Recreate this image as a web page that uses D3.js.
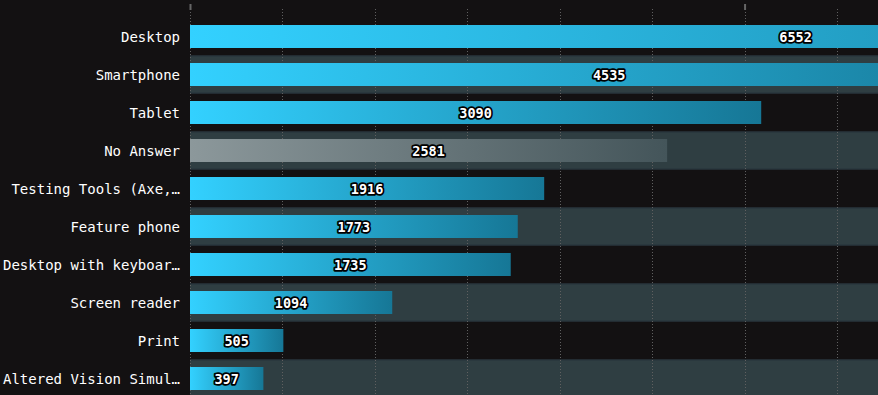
<!DOCTYPE html>
<html>
<head>
<meta charset="utf-8">
<script src="https://cdn.jsdelivr.net/npm/d3@7"></script>
<style>
  html, body { margin: 0; padding: 0; background: #131112; overflow: hidden; }
  svg { display: block; }
</style>
</head>
<body>
<div id="chart"></div>
<script>
const categories = [
  "Desktop",
  "Smartphone",
  "Tablet",
  "No Answer",
  "Testing Tools (Axe,\u2026",
  "Feature phone",
  "Desktop with keyboar\u2026",
  "Screen reader",
  "Print",
  "Altered Vision Simul\u2026"
];
const counts = [6552, 4535, 3090, 2581, 1916, 1773, 1735, 1094, 505, 397];
const gridValues = d3.range(0, 7001, 500);
const tickValues = [0, 3000, 6000];

const width = 878;
const height = 395;

const rows = categories.map((c, i) => ({ label: c, value: counts[i], idx: i }));

const svg = d3.select("#chart")
  .append("svg")
  .attr("width", width)
  .attr("height", height);

const defs = svg.append("defs");

const blue = defs.append("linearGradient")
  .attr("id", "barBlue")
  .attr("x1", "0").attr("y1", "0").attr("x2", "1").attr("y2", "0");
blue.append("stop").attr("offset", "0%").attr("stop-color", "#33d1ff");
blue.append("stop").attr("offset", "100%").attr("stop-color", "#167796");

const grey = defs.append("linearGradient")
  .attr("id", "barGrey")
  .attr("x1", "0").attr("y1", "0").attr("x2", "1").attr("y2", "0");
grey.append("stop").attr("offset", "0%").attr("stop-color", "#8c989b");
grey.append("stop").attr("offset", "100%").attr("stop-color", "#44555a");

const x = d3.scaleLinear()
  .domain([0, 7000])
  .range([190, 190 + 1294]);

const y = d3.scaleBand()
  .domain(categories)
  .range([17.5, 17.5 + 38 * categories.length])
  .padding(0);

const barH = 23;

// alternating row bands
const bands = svg.append("g")
  .selectAll("g")
  .data(rows.filter((d) => d.idx % 2 === 1))
  .enter()
  .append("g");

bands.append("rect")
  .attr("x", 190)
  .attr("y", (d) => y(d.label))
  .attr("width", width - 190)
  .attr("height", y.bandwidth())
  .attr("fill", "#2f3e42");

bands.append("rect")
  .attr("x", 190)
  .attr("y", (d) => y(d.label))
  .attr("width", width - 190)
  .attr("height", 1)
  .attr("fill", "#26333a");

bands.append("rect")
  .attr("x", 190)
  .attr("y", (d) => y(d.label) + y.bandwidth() - 1)
  .attr("width", width - 190)
  .attr("height", 1)
  .attr("fill", "#26333a");

// dotted gridlines
svg.append("g")
  .selectAll("line")
  .data(gridValues)
  .enter()
  .append("line")
  .attr("x1", (d) => Math.round(x(d)) + 0.5)
  .attr("x2", (d) => Math.round(x(d)) + 0.5)
  .attr("y1", 9)
  .attr("y2", height)
  .attr("stroke", "#606060")
  .attr("stroke-width", 1)
  .attr("stroke-dasharray", "1,2");

// top axis ticks (labels outside the view)
const axis = svg.append("g")
  .attr("transform", "translate(0,10)")
  .call(d3.axisTop(x).tickValues(tickValues).tickSize(6).tickFormat(""));
axis.select(".domain").remove();
axis.selectAll(".tick line")
  .attr("stroke", "#666")
  .attr("stroke-width", 2);

// bars
svg.append("g")
  .selectAll("rect")
  .data(rows)
  .enter()
  .append("rect")
  .attr("x", x(0))
  .attr("y", (d) => y(d.label) + (y.bandwidth() - barH) / 2)
  .attr("width", (d) => x(d.value) - x(0))
  .attr("height", barH)
  .attr("fill", (d) => d.label === "No Answer" ? "url(#barGrey)" : "url(#barBlue)");

// value labels
svg.append("g")
  .selectAll("text")
  .data(rows)
  .enter()
  .append("text")
  .attr("x", (d) => (x(0) + x(d.value)) / 2)
  .attr("y", (d) => y(d.label) + y.bandwidth() / 2 + 5)
  .attr("text-anchor", "middle")
  .attr("font-family", "'DejaVu Sans Mono', monospace")
  .attr("font-weight", "bold")
  .attr("font-size", "13.5px")
  .attr("fill", "#ffffff")
  .attr("stroke", "#000000")
  .attr("stroke-width", 3.5)
  .attr("stroke-linejoin", "round")
  .attr("paint-order", "stroke")
  .text((d) => d.value);

// category labels
svg.append("g")
  .selectAll("text")
  .data(rows)
  .enter()
  .append("text")
  .attr("x", 180)
  .attr("y", (d) => y(d.label) + y.bandwidth() / 2 + 5)
  .attr("text-anchor", "end")
  .attr("font-family", "'DejaVu Sans Mono', monospace")
  .attr("font-size", "14px")
  .attr("fill", "#ffffff")
  .text((d) => d.label);
</script>
</body>
</html>
